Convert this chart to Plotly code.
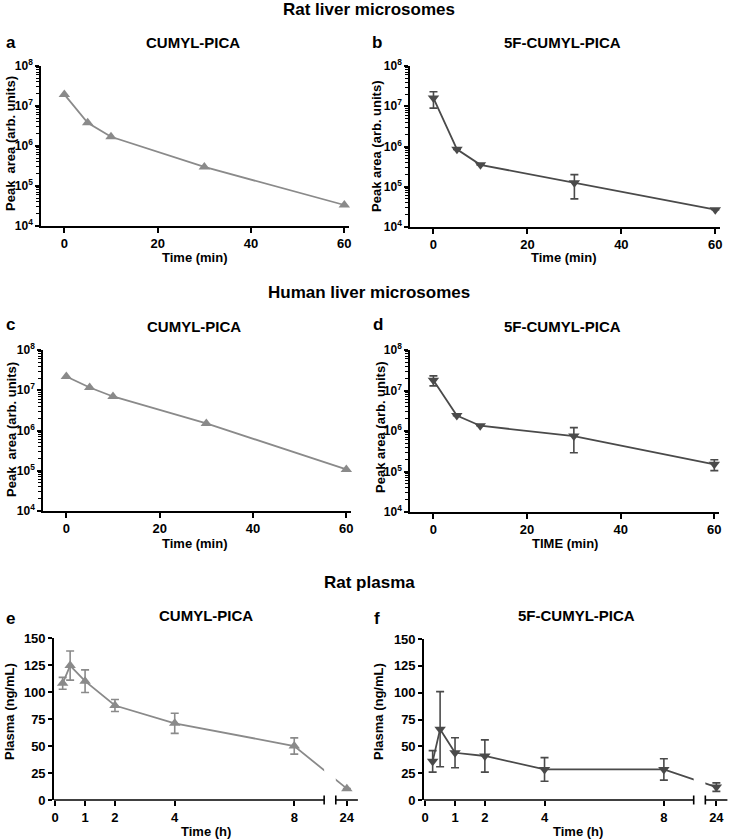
import plotly.graph_objects as go

W, H = 738, 840
FONT = "Liberation Sans, Arial, sans-serif"
GRAY = "#8a8a8a"
DARK = "#4a4a4a"

# ---- microsome incubations (peak area, arb. units) ----
min_times = [0, 5, 10, 30, 60]
min_ticks = [0, 20, 40, 60]
rlm_cumyl = [1.95e7, 3.8e6, 1.7e6, 3.0e5, 3.35e4]
rlm_5f = [1.6e7, 8.5e5, 3.5e5, 1.25e5, 2.7e4]
rlm_5f_sd = [7e6, None, None, 7.5e4, None]
hlm_cumyl = [2.2e7, 1.17e7, 7.0e6, 1.5e6, 1.08e5]
hlm_5f = [1.8e7, 2.4e6, 1.35e6, 7.5e5, 1.5e5]
hlm_5f_sd = [5e6, None, None, 4.6e5, 4.5e4]
log_tickvals = [1e4, 1e5, 1e6, 1e7, 1e8]
log_ticktext = ["10<sup>4</sup>", "10<sup>5</sup>", "10<sup>6</sup>", "10<sup>7</sup>", "10<sup>8</sup>"]

# ---- rat plasma (ng/mL) ----
h_times = [0.25, 0.5, 1, 2, 4, 8, 24]
h_ticks = [0, 1, 2, 4, 8, 24]
pl_cumyl = [108, 124.5, 110, 87.5, 71, 50, 10.5]
pl_cumyl_sd = [5.5, 13.5, 10.5, 5.5, 9.3, 7.5, None]
pl_5f = [36, 66, 44, 41, 28.5, 28.5, 12]
pl_5f_sd = [10, 35, 14, 15, 11, 10, 4]
plasma_ticks = [0, 25, 50, 75, 100, 125, 150]

# broken time axis: 0-9 h, then 23-25 h
SEG1_END = 9.0
SEG2_START_POS = 9.39
SEG2_SCALE = 0.37


def brk(t):
    return t if t <= SEG1_END else SEG2_START_POS + (t - 23) * SEG2_SCALE


def xdom(a, b):
    return [a / W, b / W]


def ydom(top, bottom):
    return [1 - bottom / H, 1 - top / H]


# panel boxes in pixels: (left, right, top, bottom)
boxes = {
    1: (41, 349, 66, 226),
    2: (410, 720, 66, 227),
    3: (43, 351, 350, 511),
    4: (410, 719, 350, 512),
    5: (54, 358.5, 638, 800),
    6: (424, 729.5, 639, 800),
}

fig = go.Figure()


def add_series(i, x, y, sd, color, symbol):
    sfx = "" if i == 1 else str(i)
    err = None
    if sd is not None:
        err = dict(type="data", array=sd, symmetric=True, color=color, thickness=1.6, width=4)
    fig.add_trace(go.Scatter(
        x=x, y=y, mode="lines+markers", xaxis="x" + sfx, yaxis="y" + sfx,
        line=dict(color=color, width=1.8),
        marker=dict(symbol=symbol, size=10, color=color),
        error_y=err, showlegend=False, cliponaxis=False,
    ))


add_series(1, min_times, rlm_cumyl, None, GRAY, "triangle-up")
add_series(2, min_times, rlm_5f, rlm_5f_sd, DARK, "triangle-down")
add_series(3, min_times, hlm_cumyl, None, GRAY, "triangle-up")
add_series(4, min_times, hlm_5f, hlm_5f_sd, DARK, "triangle-down")
add_series(5, [brk(t) for t in h_times], pl_cumyl, pl_cumyl_sd, GRAY, "triangle-up")
add_series(6, [brk(t) for t in h_times], pl_5f, pl_5f_sd, DARK, "triangle-down")

tickfont = dict(family=FONT, size=13, color="black", weight="bold")
logtickfont = dict(family=FONT, size=12, color="black", weight="bold")
common = dict(showgrid=False, zeroline=False, showline=True, linecolor="black", linewidth=1.6,
              ticks="outside", ticklen=5, tickwidth=1.6, tickcolor="black", tickfont=tickfont,
              automargin=False)

layout = {}
minor_vals = [m * 10 ** k for k in range(4, 8) for m in range(2, 10)]
for i, (l, r, t, b) in boxes.items():
    sfx = "" if i == 1 else str(i)
    xa = dict(common, domain=xdom(l, r), anchor="y" + sfx)
    ya = dict(common, domain=ydom(t, b), anchor="x" + sfx, ticklen=4, ticklabelstandoff=0)
    if i <= 4:
        xa.update(range=[-5, 61], tickmode="array", tickvals=min_ticks)
        ya.update(type="log", range=[4, 8], tickmode="array", tickvals=log_tickvals,
                  ticktext=log_ticktext, tickfont=logtickfont,
                  minor=dict(tickmode="array", tickvals=minor_vals, ticks="outside",
                             ticklen=3, tickwidth=1, tickcolor="black"))
    else:
        xa.update(range=[-0.04, 10.15 if i == 5 else 10.2], showline=False, tickmode="array",
                  tickvals=[brk(v) for v in h_ticks], ticktext=[str(v) for v in h_ticks])
        ya.update(range=[0, 150], tickmode="array", tickvals=plasma_ticks)
    layout["xaxis" + sfx] = xa
    layout["yaxis" + sfx] = ya

shapes = []
for i in (5, 6):
    sfx = str(i)
    xr, yr = "x" + sfx, "y" + sfx + " domain"
    # hide the data line across the break
    shapes.append(dict(type="rect", xref=xr, yref=yr, x0=SEG1_END, x1=brk(23), y0=0.04, y1=1,
                       fillcolor="white", line=dict(width=0), layer="above"))
    # axis segments
    shapes.append(dict(type="line", xref=xr, yref=yr, x0=-0.04, x1=SEG1_END, y0=0, y1=0,
                       line=dict(color="black", width=1.6), layer="above"))
    shapes.append(dict(type="line", xref=xr, yref=yr, x0=brk(23), x1=brk(25), y0=0, y1=0,
                       line=dict(color="black", width=1.6), layer="above"))
    for xc in (SEG1_END, brk(23)):
        shapes.append(dict(type="line", xref=xr, yref=yr, x0=xc, x1=xc, y0=-0.028, y1=0.028,
                           line=dict(color="black", width=1.6), layer="above"))

ann = []


def text(x, y, s, size, angle=0, xanchor="center"):
    ann.append(dict(x=x / W, y=1 - y / H, xref="paper", yref="paper", text=s, showarrow=False,
                    xanchor=xanchor, yanchor="middle", textangle=angle,
                    font=dict(family=FONT, size=size, color="black", weight="bold")))


# section titles
text(369, 10, "Rat liver microsomes", 17)
text(369, 292, "Human liver microsomes", 17)
text(369, 582, "Rat plasma", 17)
# panel titles
text(193, 42, "CUMYL-PICA", 15)
text(562, 42, "5F-CUMYL-PICA", 15)
text(194, 327, "CUMYL-PICA", 15)
text(562, 327, "5F-CUMYL-PICA", 15)
text(206, 615, "CUMYL-PICA", 15)
text(576, 615, "5F-CUMYL-PICA", 15)
# panel letters
text(4, 42, "a", 17, xanchor="left")
text(370, 42, "b", 17, xanchor="left")
text(4, 325, "c", 17, xanchor="left")
text(371, 325, "d", 17, xanchor="left")
text(4, 618, "e", 17, xanchor="left")
text(372, 618, "f", 17, xanchor="left")
# y titles
text(10, 144, "Peak\u00a0 area (arb. units)", 13, angle=-90)
text(376, 146, "Peak area (arb. units)", 13, angle=-90)
text(12, 430, "Peak\u00a0 area (arb. units)", 13, angle=-90)
text(380, 427, "Peak area (arb. units)", 13, angle=-90)
text(9, 712, "Plasma (ng/mL)", 13, angle=-90)
text(378, 712, "Plasma (ng/mL)", 13, angle=-90)
# x titles
text(195, 257, "Time (min)", 13)
text(564, 257, "Time (min)", 13)
text(195, 543, "Time (min)", 13)
text(565, 543, "TIME (min)", 13)
text(206, 831, "Time (h)", 13)
text(578, 831, "Time (h)", 13)

fig.update_layout(
    width=W, height=H, margin=dict(l=0, r=0, t=0, b=0, autoexpand=False),
    paper_bgcolor="white", plot_bgcolor="white",
    showlegend=False, annotations=ann, shapes=shapes,
    font=dict(family=FONT, color="black"),
    **layout,
)

fig.write_html("out.html", config={"displayModeBar": False},
               post_script="document.body.style.margin='0px';")
